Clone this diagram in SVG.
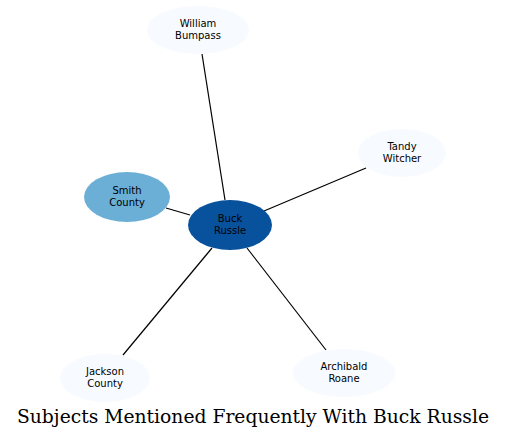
<svg xmlns="http://www.w3.org/2000/svg" width="507" height="439" viewBox="0 0 507 439">
<style>
.n text{font-family:"DejaVu Sans",sans-serif;font-size:10px;fill:#000;text-anchor:middle}
.l{fill:#f7fbff}
.e line{stroke:#000;stroke-width:1.2}
.t{font-family:"DejaVu Serif",serif;font-size:18px;text-anchor:middle;fill:#000}
</style>
<rect width="507" height="439" fill="#fff"/>
<g class="e" id="edges">
<line x1="225" y1="200" x2="202" y2="54"/>
<line x1="264" y1="211" x2="366" y2="168"/>
<line x1="166" y1="208" x2="190" y2="215"/>
<line x1="212" y1="248" x2="123" y2="355"/>
<line x1="247" y1="248" x2="326" y2="350"/>
</g>
<g class="n" id="william"><ellipse class="l" cx="198" cy="30" rx="51" ry="24"/><text x="198" y="27">William</text><text x="198" y="39">Bumpass</text></g>
<g class="n" id="tandy"><ellipse class="l" cx="402" cy="153" rx="44" ry="24"/><text x="402" y="150">Tandy</text><text x="402" y="162">Witcher</text></g>
<g class="n" id="smith"><ellipse fill="#6baed6" cx="127" cy="197" rx="43" ry="25"/><text x="127" y="194">Smith</text><text x="127" y="206">County</text></g>
<g class="n" id="buck"><ellipse fill="#08519c" cx="230" cy="225" rx="42" ry="25"/><text x="230" y="222">Buck</text><text x="230" y="234">Russle</text></g>
<g class="n" id="jackson"><ellipse class="l" cx="105" cy="378" rx="45" ry="24"/><text x="105" y="375">Jackson</text><text x="105" y="387">County</text></g>
<g class="n" id="archibald"><ellipse class="l" cx="344" cy="373" rx="51" ry="24"/><text x="344" y="370">Archibald</text><text x="344" y="382">Roane</text></g>
<text class="t" x="253" y="423" textLength="472" lengthAdjust="spacingAndGlyphs">Subjects Mentioned Frequently With Buck Russle</text>
</svg>
